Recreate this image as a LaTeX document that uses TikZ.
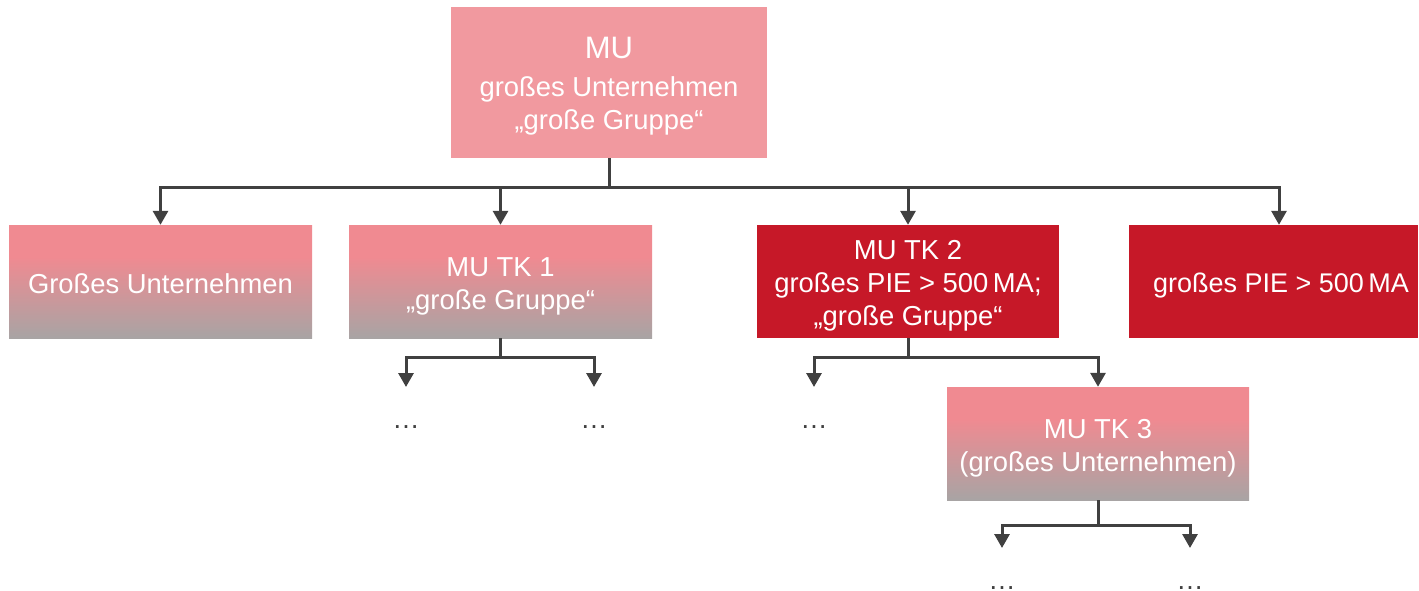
\documentclass[tikz,border=0pt]{standalone}
\usepackage{fontspec}
\setmainfont{Liberation Sans}
\usetikzlibrary{arrows.meta}

\definecolor{toppink}{RGB}{241,153,159}
\definecolor{boxpink}{RGB}{240,138,145}
\definecolor{boxgray}{RGB}{168,164,164}
\definecolor{boxred}{RGB}{198,24,40}
\definecolor{linegray}{RGB}{64,64,64}

% pink at the top, fading to gray towards the bottom edge
\pgfdeclareverticalshading{pinkgray}{100bp}{%
  color(0bp)=(boxgray); color(25bp)=(boxgray);
  color(61bp)=(boxpink); color(100bp)=(boxpink)}

\tikzset{
  box/.style={rectangle, inner sep=0pt},
  fadebox/.style={box, shading=pinkgray},
  redbox/.style={box, fill=boxred},
  boxtext/.style={inner sep=0pt, text=white, align=center,
    font=\fontsize{27.4}{33}\selectfont},
  dotsnode/.style={anchor=north, inner sep=0pt, text height=41pt, text depth=0pt,
    text=linegray, font=\fontsize{27.4}{33}\selectfont},
  arr/.style={draw=linegray, line width=3pt,
    -{Triangle[width=15pt,length=14pt]}},
}

\begin{document}
\begin{tikzpicture}[x=1pt,y=-1pt]
\useasboundingbox (0,0) rectangle (1419,591);

% boxes
\node[box, fill=toppink, minimum width=316pt, minimum height=151pt] (mu) at (609,82.5) {};
\node[fadebox, minimum width=303pt, minimum height=113pt] (gu) at (160.5,281.5) {};
\node[fadebox, minimum width=303pt, minimum height=113pt] (tk1) at (500.5,281.5) {};
\node[redbox, minimum width=302pt, minimum height=113pt] (tk2) at (908,281.5) {};
\node[redbox, minimum width=289pt, minimum height=113pt] (pie) at (1273.5,281.5) {};
\node[fadebox, minimum width=302pt, minimum height=113pt] (tk3) at (1098,443.5) {};

% box labels
\node[boxtext] (mut) at ([yshift=-4pt]mu.center)
  {{\fontsize{31}{33}\selectfont MU}\\[5pt]großes Unternehmen\\„große Gruppe“};
\node[boxtext] (gut) at ([yshift=-2pt]gu.center) {Großes Unternehmen};
\node[boxtext] (tk1t) at ([yshift=-5pt]tk1.center) {MU TK 1\\„große Gruppe“};
\node[boxtext] (tk2t) at ([yshift=-4.5pt]tk2.center)
  {MU TK 2\\großes PIE > 500\,MA;\\„große Gruppe“};
\node[boxtext, font=\fontsize{27}{33}\selectfont] (piet) at ([xshift=7.5pt,yshift=-4pt]pie.center)
  {großes PIE > 500\,MA};
\node[boxtext] (tk3t) at ([yshift=-5pt]tk3.center) {MU TK 3\\(großes Unternehmen)};

% placeholders for further subsidiaries
\node[dotsnode] (d1) at (406,387) {…};
\node[dotsnode] (d2) at (594,387) {…};
\node[dotsnode] (d3) at (814,387) {…};
\node[dotsnode] (d4) at (1002,548) {…};
\node[dotsnode] (d5) at (1190,548) {…};

% connectors
\draw[arr] (mu.south) -- ++(0,29) -| (gu.north);
\draw[arr] (mu.south) -- ++(0,29) -| (tk1.north);
\draw[arr] (mu.south) -- ++(0,29) -| (tk2.north);
\draw[arr] (mu.south) -- ++(0,29) -| ([xshift=5.5pt]pie.north);

\draw[arr] (tk1.south) -- ++(0,19) -| (d1.north);
\draw[arr] (tk1.south) -- ++(0,19) -| (d2.north);

\draw[arr] (tk2.south) -- ++(0,19) -| (d3.north);
\draw[arr] (tk2.south) -- ++(0,19) -| (tk3.north);

\draw[arr] (tk3.south) -- ++(0,25) -| (d4.north);
\draw[arr] (tk3.south) -- ++(0,25) -| (d5.north);
\end{tikzpicture}
\end{document}
